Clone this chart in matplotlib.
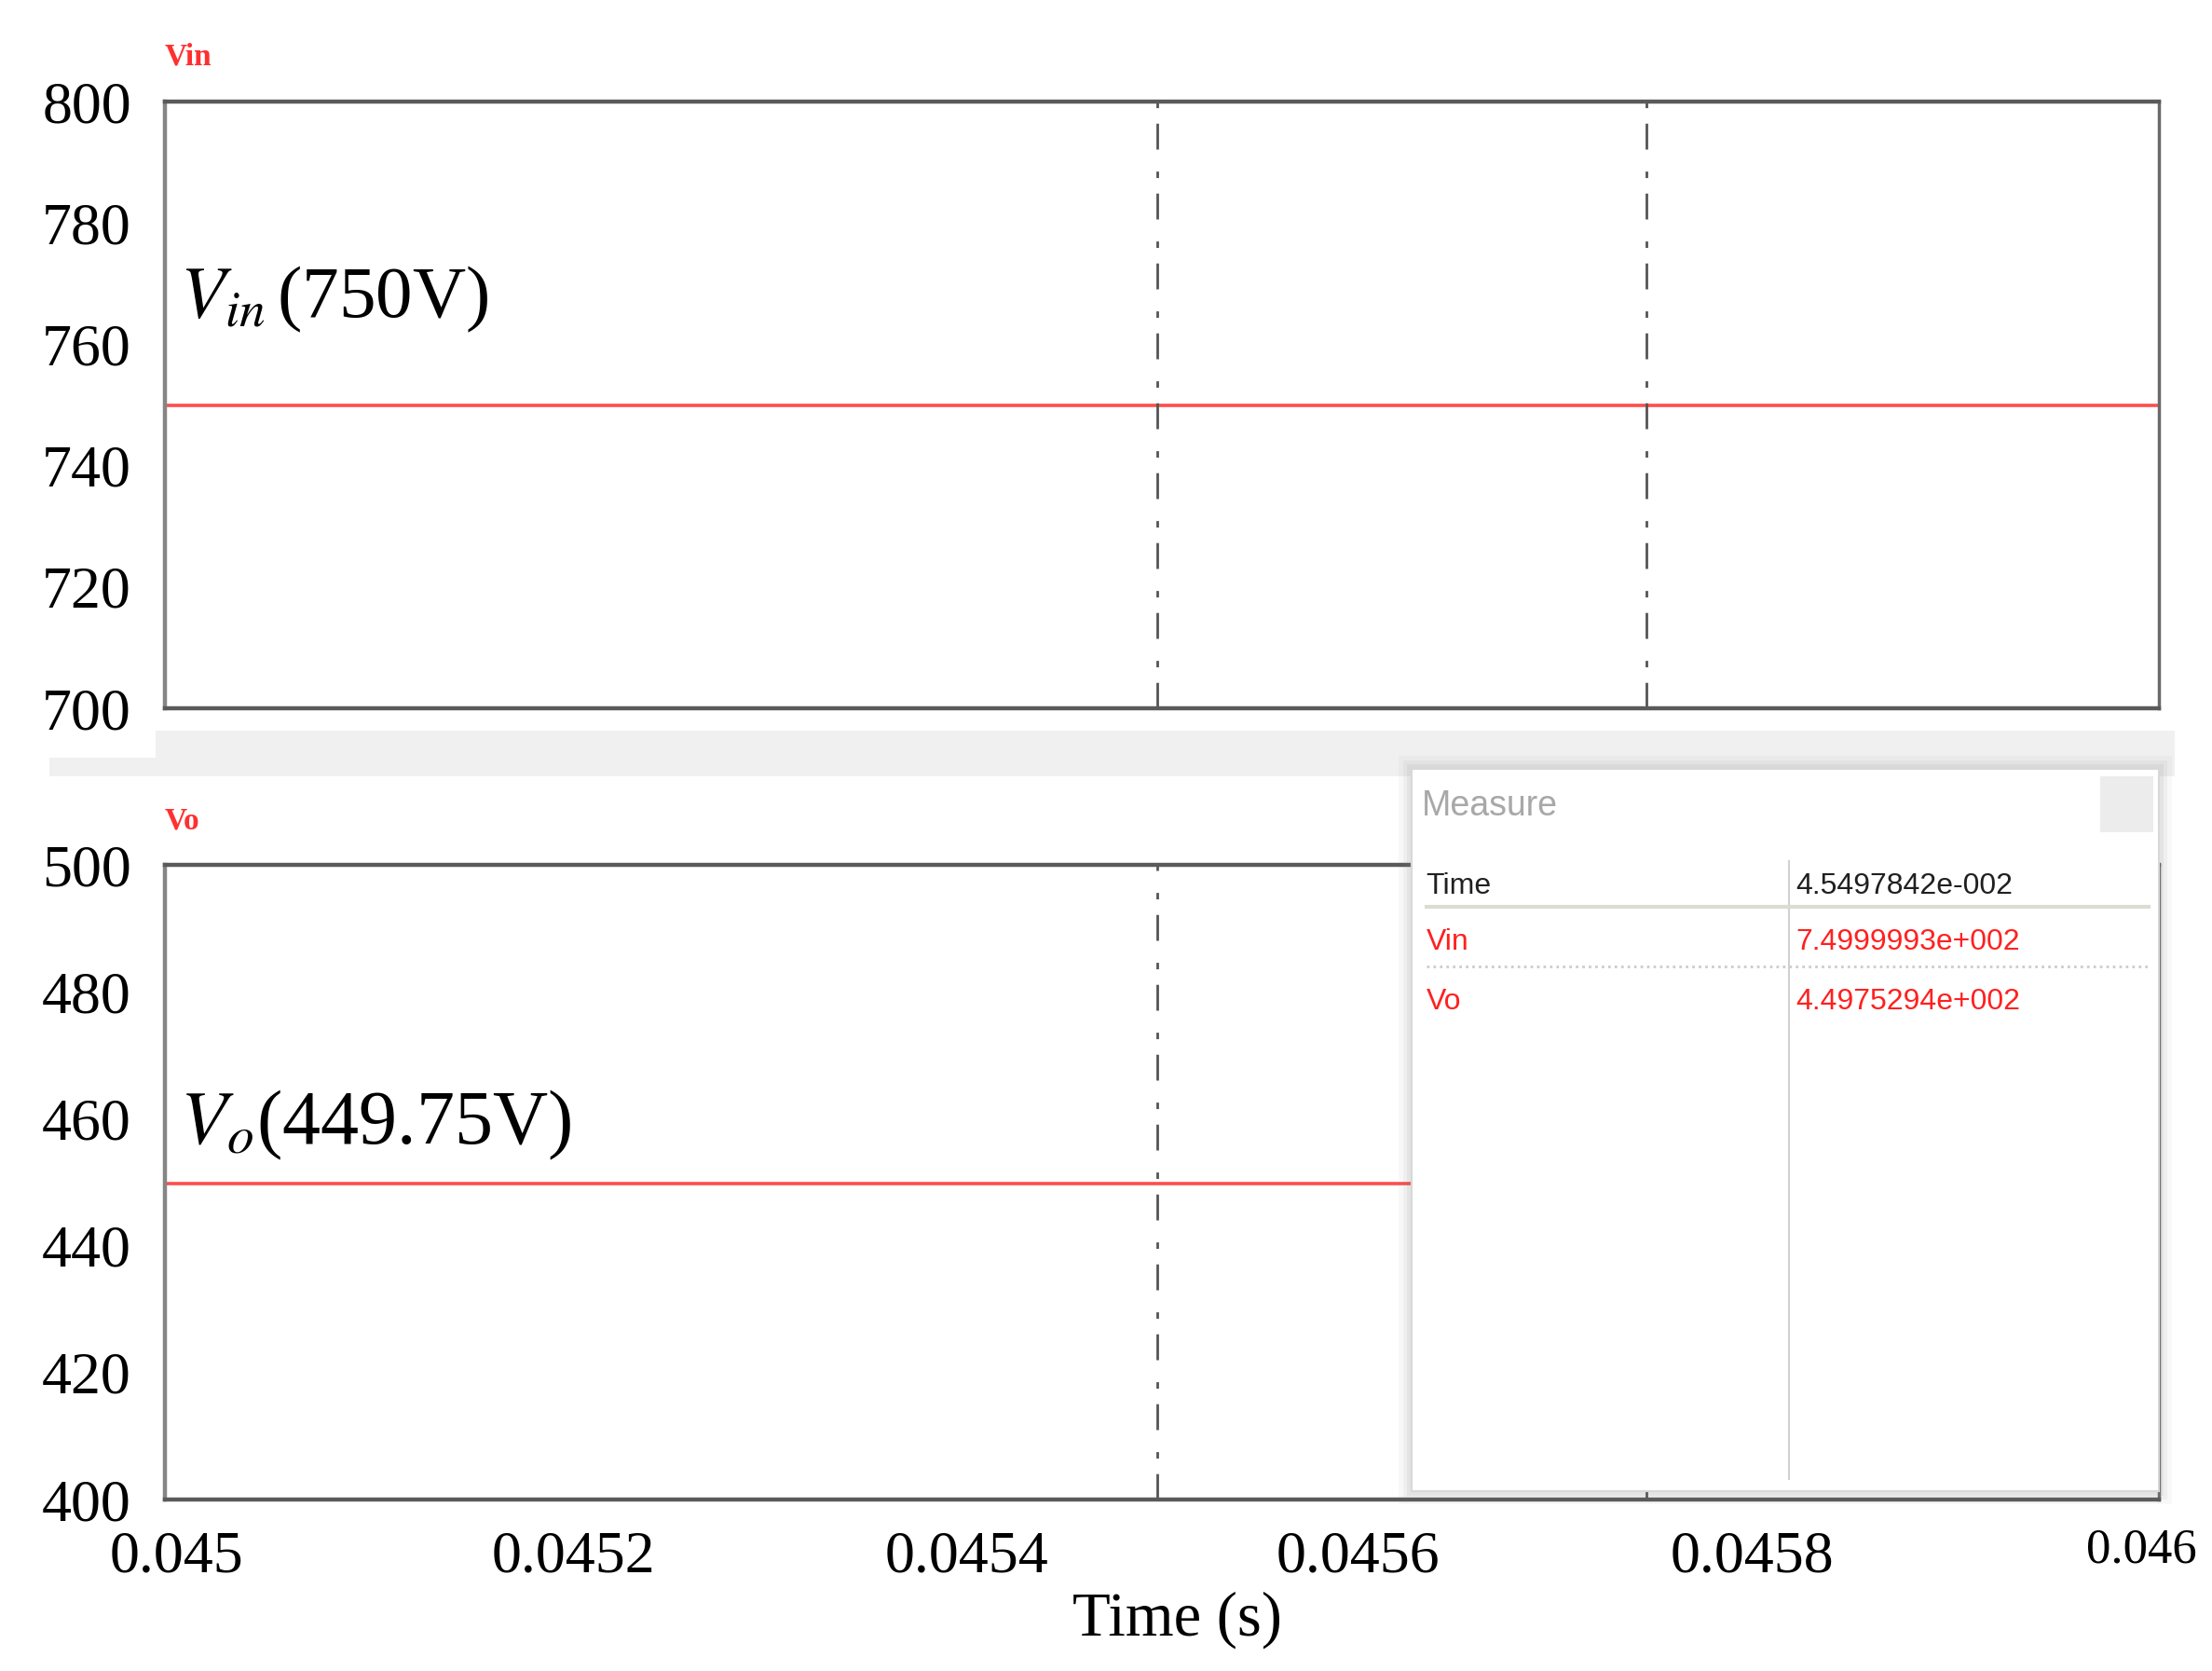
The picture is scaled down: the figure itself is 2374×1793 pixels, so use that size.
import numpy as np
import matplotlib
matplotlib.use("Agg")
import matplotlib.pyplot as plt
from matplotlib.patches import Rectangle
from matplotlib.transforms import ScaledTranslation

# data
t_span = [0.045, 0.046]
vin = [750.0, 750.0]
vo = [449.75, 449.75]
cursor_t = [0.0454978, 0.0457431]
vin_ticks = [700, 720, 740, 760, 780, 800]
vo_ticks = [400, 420, 440, 460, 480, 500]
x_ticks = [0.045, 0.0452, 0.0454, 0.0456, 0.0458, 0.046]
x_labels = ['0.045', '0.0452', '0.0454', '0.0456', '0.0458', '0.046']
meas_names = ['Time', 'Vin', 'Vo']
meas_values = ['4.5497842e-002', '7.4999993e+002', '4.4975294e+002']

plt.rcParams['mathtext.fontset'] = 'stix'
plt.rcParams['lines.scale_dashes'] = False
serif = 'Liberation Serif'

fig = plt.figure(figsize=(23.74, 17.93), dpi=100)

# light grey band between the two panels
fig.patches.append(Rectangle((0.0703, 0.5466), 0.9128, 0.0162, transform=fig.transFigure,
                             facecolor='#f0f0f0', edgecolor='none', zorder=0))
fig.patches.append(Rectangle((0.0223, 0.5354), 0.961, 0.0112, transform=fig.transFigure,
                             facecolor='#f0f0f0', edgecolor='none', zorder=0))

ax1 = fig.add_axes([0.0746, 0.5761, 0.9014, 0.3631])
ax2 = fig.add_axes([0.0746, 0.1026, 0.9014, 0.3798])

red = '#ff4d4d'
ax1.plot(t_span, vin, color=red, lw=2.6)
ax2.plot(t_span, vo, color=red, lw=2.6)

for ax, yt in [(ax1, vin_ticks), (ax2, vo_ticks)]:
    for tc in cursor_t:
        ax.axvline(tc, color='#555555', lw=2.0, dashes=(20, 12, 5, 17))
    ax.set_xlim(t_span)
    ax.set_ylim(yt[0], yt[-1])
    ax.set_yticks(yt)
    ax.set_yticklabels([str(v) for v in yt], family=serif, fontsize=46)
    ax.set_xticks(x_ticks)
    ax.tick_params(length=0, pad=26)
    for side in ['top', 'bottom']:
        ax.spines[side].set_color('#5a5a5a')
        ax.spines[side].set_linewidth(3.2)
    ax.spines['left'].set_color('#858585')
    ax.spines['left'].set_linewidth(3.2)
    ax.spines['right'].set_color('#6a6a6a')
    ax.spines['right'].set_linewidth(2.5)

ax1.set_xticklabels([])
ax2.set_xticklabels(x_labels, family=serif, fontsize=46)
ax2.tick_params(axis='x', pad=24)
# the screenshot labels sit a little off their ticks
shifts = [0.12, 0.10, 0.04, -0.04, -0.09, -0.19]
for lab, dx in zip(ax2.get_xticklabels(), shifts):
    lab.set_transform(lab.get_transform() + ScaledTranslation(dx, 0, fig.dpi_scale_trans))
last = ax2.get_xticklabels()[-1]
last.set_fontsize(38)
last.set_transform(last.get_transform() + ScaledTranslation(0, 0.03, fig.dpi_scale_trans))

ax1.text(0.0450075, 764.5, r'$V_{in}\,$(750V)', family=serif, fontsize=57, va='baseline')
ax2.text(0.0450075, 456.0, r'$V_o$(449.75V)', family=serif, fontsize=59, va='baseline')

fig.text(177 / 2374, 1 - 76 / 1793, 'Vin', color='#ff3030', fontweight='bold',
         family=serif, fontsize=24, va='bottom')
fig.text(177 / 2374, 1 - 896 / 1793, 'Vo', color='#ff3030', fontweight='bold',
         family=serif, fontsize=24, va='bottom')
fig.text(0.532, 0.0307, 'Time (s)', family=serif, fontsize=48, ha='center', va='center')

# measure window with a soft shadow
bx, by, bw, bh = 0.638, 0.1076, 0.338, 0.4323
for k, a in [(14, 0.05), (9, 0.07), (5, 0.09)]:
    dx, dy = k / 2374, k / 1793
    fig.patches.append(Rectangle((bx - dx, by - dy), bw + 2 * dx, bh + 2 * dy,
                                 transform=fig.transFigure, facecolor='#808080',
                                 alpha=a, edgecolor='none', zorder=5))
axm = fig.add_axes([bx, by, bw, bh], zorder=10)
axm.set_xlim(0, 1)
axm.set_ylim(0, 1)
axm.set_xticks([])
axm.set_yticks([])
for s in axm.spines.values():
    s.set_color('#d8d8d8')
    s.set_linewidth(1.5)

axm.text(0.014, 0.948, 'Measure', color='#a8a8a8', family='Liberation Sans',
         fontsize=27, va='center')
axm.add_patch(Rectangle((0.921, 0.912), 0.071, 0.078, facecolor='#ececec', edgecolor='none'))
axm.plot([0.505, 0.505], [0.017, 0.872], color='#d0d0d0', lw=1.5)
axm.plot([0.02, 0.986], [0.809, 0.809], color='#dcdcd4', lw=3)
axm.plot([0.02, 0.986], [0.726, 0.726], color='#cccccc', lw=2, ls=(0, (2, 3)))

row_y = [0.837, 0.760, 0.677]
row_c = ['#202020', '#ff2020', '#ff2020']
for name, val, yy, cc in zip(meas_names, meas_values, row_y, row_c):
    axm.text(0.020, yy, name, color=cc, family='Liberation Sans', fontsize=23, va='center')
    axm.text(0.514, yy, val, color=cc, family='Liberation Sans', fontsize=23, va='center')

fig.savefig('out.png', dpi=100)
